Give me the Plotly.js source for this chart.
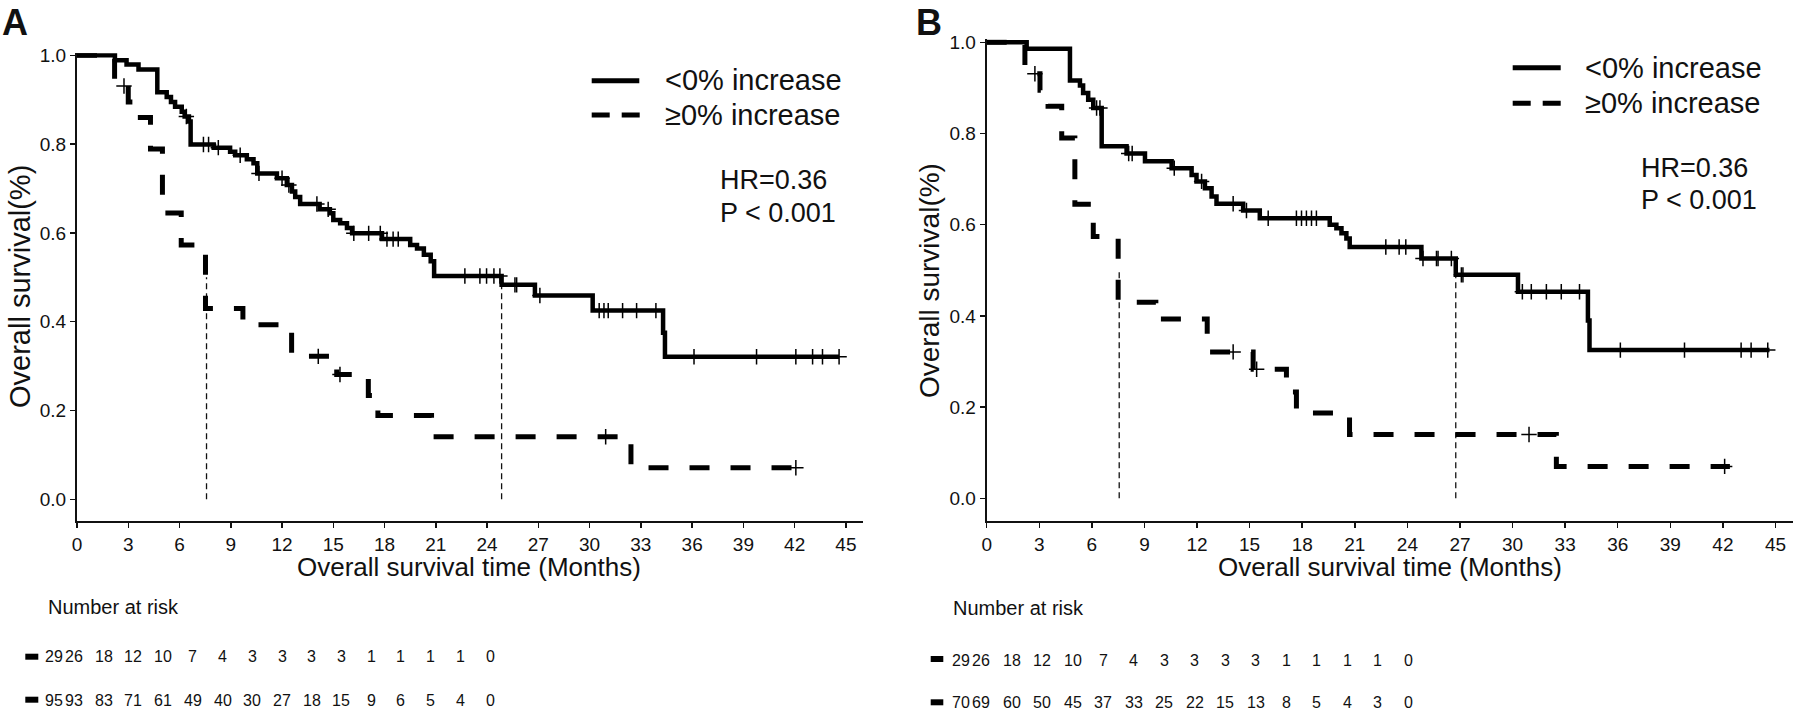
<!DOCTYPE html>
<html>
<head>
<meta charset="utf-8">
<script src="https://cdn.plot.ly/plotly-3.0.1.min.js"></script>
<style>
  html, body { margin: 0; padding: 0; background: #fff; }
  #km { width: 1800px; height: 717px; }
</style>
</head>
<body>
<div id="km"></div>
<script>
// Kaplan-Meier steps (time in months, survival fraction)
// panel A
var aSolidT = [0, 2.22, 2.9, 3.6, 4.7, 5.25, 5.5, 5.74, 6.13, 6.3, 6.55, 6.65, 8.0, 8.96, 9.26, 9.94, 10.33, 10.55, 11.7, 12.28, 12.58, 12.77, 13.06, 14.2, 14.8, 15.0, 15.4, 15.8, 16.1, 17.85, 19.5, 19.9, 20.3, 20.7, 20.9, 24.85, 26.8, 30.18, 34.3, 34.41, 44.6];
var aSolidS = [1, 0.989, 0.979, 0.968, 0.917, 0.906, 0.895, 0.884, 0.873, 0.862, 0.851, 0.799, 0.792, 0.783, 0.775, 0.766, 0.757, 0.734, 0.723, 0.708, 0.693, 0.681, 0.665, 0.653, 0.644, 0.629, 0.622, 0.611, 0.599, 0.586, 0.573, 0.565, 0.551, 0.536, 0.503, 0.483, 0.459, 0.425, 0.375, 0.321, 0.321];
var aSolidCensT = [6.4, 7.4, 7.7, 8.27, 9.55, 10.65, 12.0, 12.4, 14.04, 14.7, 16.2, 17.07, 17.75, 18.14, 18.5, 18.8, 22.7, 23.58, 23.97, 24.4, 24.75, 25.63, 25.73, 27.09, 30.56, 30.84, 31.09, 31.93, 32.75, 33.88, 36.11, 39.77, 42.07, 43.05, 43.63, 44.6];
var aSolidCensS = [0.862, 0.799, 0.799, 0.792, 0.775, 0.734, 0.723, 0.708, 0.665, 0.653, 0.599, 0.599, 0.599, 0.586, 0.586, 0.586, 0.503, 0.503, 0.503, 0.503, 0.503, 0.483, 0.483, 0.459, 0.425, 0.425, 0.425, 0.425, 0.425, 0.425, 0.321, 0.321, 0.321, 0.321, 0.321, 0.321];
var aDashT = [0, 2.2, 3.0, 3.4, 4.3, 5.0, 6.1, 7.52, 9.71, 12.56, 15.2, 17.05, 17.61, 20.75, 32.42, 42.3];
var aDashS = [1, 0.931, 0.895, 0.860, 0.789, 0.645, 0.573, 0.430, 0.393, 0.322, 0.281, 0.234, 0.189, 0.141, 0.071, 0.071];
var aDashCensT = [2.75, 14.12, 15.39, 30.94, 42.07];
var aDashCensS = [0.931, 0.322, 0.281, 0.141, 0.071];
var aMedians = [7.58, 24.85];

// panel B
var bSolidT = [0, 2.28, 4.75, 5.32, 5.5, 5.79, 6.08, 6.56, 7.98, 9.03, 10.55, 11.69, 11.97, 12.45, 12.83, 13.11, 14.63, 15.58, 19.57, 19.95, 20.24, 20.52, 20.71, 24.8, 26.76, 30.31, 34.3, 34.39, 44.66];
var bSolidS = [1, 0.986, 0.916, 0.905, 0.889, 0.874, 0.856, 0.772, 0.756, 0.739, 0.724, 0.709, 0.695, 0.680, 0.662, 0.646, 0.631, 0.614, 0.600, 0.592, 0.581, 0.570, 0.551, 0.526, 0.490, 0.453, 0.390, 0.325, 0.325];
var bSolidCensT = [6.27, 6.46, 8.1, 8.3, 10.7, 12.26, 14.06, 14.82, 16.06, 17.67, 17.96, 18.24, 18.53, 18.81, 22.77, 23.53, 23.91, 24.89, 25.66, 25.75, 26.51, 27.08, 27.17, 30.56, 31.07, 31.93, 32.78, 33.82, 36.15, 39.81, 43.04, 43.61, 44.56];
var bSolidCensS = [0.856, 0.856, 0.756, 0.756, 0.724, 0.695, 0.646, 0.631, 0.614, 0.614, 0.614, 0.614, 0.614, 0.614, 0.551, 0.551, 0.551, 0.526, 0.526, 0.526, 0.526, 0.490, 0.490, 0.453, 0.453, 0.453, 0.453, 0.453, 0.325, 0.325, 0.325, 0.325, 0.325];
var bDashT = [0, 2.18, 3.04, 3.5, 4.28, 5.03, 6.08, 7.5, 9.65, 12.58, 15.2, 17.1, 17.67, 20.7, 32.5, 42.4];
var bDashS = [1, 0.931, 0.895, 0.860, 0.790, 0.645, 0.574, 0.430, 0.393, 0.321, 0.283, 0.233, 0.187, 0.140, 0.070, 0.070];
var bDashCensT = [2.75, 14.06, 15.4, 30.94, 42.1];
var bDashCensS = [0.931, 0.321, 0.283, 0.140, 0.070];
var bMedians = [7.56, 26.76];

// number at risk
var riskTimes = [0, 3, 6, 9, 12, 15, 18, 21, 24, 27, 30, 33, 36, 39, 42, 45];
var riskA = [
  [29, 26, 18, 12, 10, 7, 4, 3, 3, 3, 3, 1, 1, 1, 1, 0],
  [95, 93, 83, 71, 61, 49, 40, 30, 27, 18, 15, 9, 6, 5, 4, 0]
];
var riskB = [
  [29, 26, 18, 12, 10, 7, 4, 3, 3, 3, 3, 1, 1, 1, 1, 0],
  [70, 69, 60, 50, 45, 37, 33, 25, 22, 15, 13, 8, 5, 4, 3, 0]
];
var groupNames = ['<0% increase', '\u22650% increase'];
var statLines = ['HR=0.36', 'P < 0.001'];

var W = 1800, H = 717;
var FONT = 'Liberation Sans, Arial, sans-serif';
var INK = '#111';

function fx(p) { return p / W; }
function fy(p) { return 1 - p / H; }
// values at pixel edges d0,d1 given two anchor pixels p0->v0, p1->v1
function span(d0, d1, p0, v0, p1, v1) {
  var k = (v1 - v0) / (p1 - p0);
  return [v0 + (d0 - p0) * k, v0 + (d1 - p0) * k];
}

function medianTrace(meds, xa, ya) {
  var x = [], y = [];
  meds.forEach(function (m) { x.push(m, m, null); y.push(0, 0.5, null); });
  return {x: x, y: y, xaxis: xa, yaxis: ya, mode: 'lines', hoverinfo: 'skip',
    line: {color: INK, width: 1.3, dash: '6px,4px'}, showlegend: false};
}
function curve(t, s, dashed, xa, ya) {
  return {x: t, y: s, xaxis: xa, yaxis: ya, mode: 'lines', showlegend: false,
    line: {shape: 'hv', color: '#000', width: dashed ? 5 : 4.5, dash: dashed ? '20px,21px' : 'solid'}};
}
function censors(t, s, xa, ya) {
  return {x: t, y: s, xaxis: xa, yaxis: ya, mode: 'markers', showlegend: false,
    marker: {symbol: 'cross-thin', size: 11, color: '#000', line: {color: '#000', width: 1.5}}};
}

var data = [
  medianTrace(aMedians, 'x', 'y'),
  curve(aSolidT, aSolidS, false, 'x', 'y'),
  curve(aDashT, aDashS, true, 'x', 'y'),
  censors(aSolidCensT, aSolidCensS, 'x', 'y'),
  censors(aDashCensT, aDashCensS, 'x', 'y'),
  medianTrace(bMedians, 'x2', 'y2'),
  curve(bSolidT, bSolidS, false, 'x2', 'y2'),
  curve(bDashT, bDashS, true, 'x2', 'y2'),
  censors(bSolidCensT, bSolidCensS, 'x2', 'y2'),
  censors(bDashCensT, bDashCensS, 'x2', 'y2')
];

function mainX(d0, d1, yName) {
  return {domain: [fx(d0), fx(d1)], range: [0, 46], anchor: yName,
    tickmode: 'linear', tick0: 0, dtick: 3, ticks: 'outside', ticklen: 5, tickwidth: 1.5, tickcolor: INK,
    showline: true, linewidth: 2, linecolor: INK, showgrid: false, zeroline: false,
    tickfont: {family: FONT, size: 19, color: INK}, fixedrange: true};
}
function mainY(top, bottom, p0, p1, xName) {
  return {domain: [fy(bottom), fy(top)], range: span(bottom, top, p0, 0, p1, 1), anchor: xName,
    tickmode: 'linear', tick0: 0, dtick: 0.2, tickformat: '.1f', ticks: 'outside', ticklen: 5, tickwidth: 1.5, tickcolor: INK,
    showline: true, linewidth: 2, linecolor: INK, showgrid: false, zeroline: false,
    tickfont: {family: FONT, size: 19, color: INK}, fixedrange: true};
}
function hidden(dom, rng, anchor) {
  return {domain: dom, range: rng, anchor: anchor, visible: false, fixedrange: true};
}

var ann = [];
function txt(x, y, s, size, opts) {
  var a = {xref: 'paper', yref: 'paper', x: fx(x), y: fy(y), text: s, showarrow: false,
    xanchor: 'left', yanchor: 'middle', font: {family: FONT, size: size, color: INK}};
  for (var k in opts) a[k] = opts[k];
  ann.push(a);
}

// panel letters
txt(0, 0, '<b>A</b>', 36, {yanchor: 'top', y: 1});
txt(914, 0, '<b>B</b>', 36, {yanchor: 'top', y: 1});
// axis titles
txt(469.5, 567, 'Overall survival time (Months)', 26, {xanchor: 'center'});
txt(1390, 567, 'Overall survival time (Months)', 26, {xanchor: 'center'});
txt(20, 287, 'Overall survival(%)', 29, {xanchor: 'center', textangle: -90});
txt(929, 280, 'Overall survival(%)', 28, {xanchor: 'center', textangle: -90});
// legends and stats
txt(663.3, 80, groupNames[0], 29);
txt(663.3, 115, groupNames[1], 29);
txt(1583.3, 68, groupNames[0], 29);
txt(1583.3, 103, groupNames[1], 29);
txt(718.3, 180, statLines[0], 27);
txt(718.3, 213.3, statLines[1], 27);
txt(1639.3, 168.3, statLines[0], 27);
txt(1639.3, 200, statLines[1], 27);
// number at risk
txt(45.7, 606.7, 'Number at risk', 20);
txt(950.7, 608, 'Number at risk', 20);

function riskRows(rows, xa, ya, firstShift) {
  rows.forEach(function (row, r) {
    row.forEach(function (n, i) {
      ann.push({xref: xa, yref: ya, x: riskTimes[i], y: 1 - r, text: String(n), showarrow: false,
        xanchor: 'center', yanchor: 'middle', xshift: i === 0 ? firstShift : 0,
        font: {family: FONT, size: 16, color: INK}});
    });
  });
}
riskRows(riskA, 'x3', 'y3', 9.5);
riskRows(riskB, 'x4', 'y4', 10.5);

var shapes = [];
function seg(x0, x1, y, dash) {
  shapes.push({type: 'line', xref: 'paper', yref: 'paper', x0: fx(x0), x1: fx(x1), y0: fy(y), y1: fy(y),
    line: {color: '#000', width: 5, dash: dash || 'solid'}});
}
seg(591.7, 639.3, 80.7);
seg(591.7, 640.7, 115, '18px,12px');
seg(1512.7, 1560.7, 67.7);
seg(1512.7, 1561.7, 103.3, '18px,12px');
function key(x0, x1, yc) {
  shapes.push({type: 'rect', xref: 'paper', yref: 'paper', x0: fx(x0), x1: fx(x1), y0: fy(yc + 3), y1: fy(yc - 3),
    fillcolor: '#000', line: {width: 0}});
}
key(25.3, 38.3, 656.7); key(25.3, 38.3, 699.7);
key(930.7, 943.3, 659); key(930.7, 943.3, 702.3);

var layout = {
  width: W, height: H, margin: {l: 0, r: 0, t: 0, b: 0},
  paper_bgcolor: '#fff', plot_bgcolor: 'rgba(0,0,0,0)', showlegend: false,
  xaxis: mainX(77, 863, 'y'),
  yaxis: mainY(53.3, 521, 499.3, 55.3, 'x'),
  xaxis2: mainX(986.7, 1793, 'y2'),
  yaxis2: mainY(39.3, 520.7, 498.3, 42.3, 'x2'),
  xaxis3: hidden([0, 0.5], span(0, 900, 74, 3, 490, 45), 'y3'),
  yaxis3: hidden([0, fy(580)], span(717, 580, 700, 0, 656.7, 1), 'x3'),
  xaxis4: hidden([0.5, 1], span(900, 1800, 981, 3, 1408, 45), 'y4'),
  yaxis4: hidden([0, fy(580)], span(717, 580, 702.7, 0, 660, 1), 'x4'),
  annotations: ann,
  shapes: shapes
};

Plotly.newPlot('km', data, layout, {displayModeBar: false, staticPlot: true});
</script>
</body>
</html>
